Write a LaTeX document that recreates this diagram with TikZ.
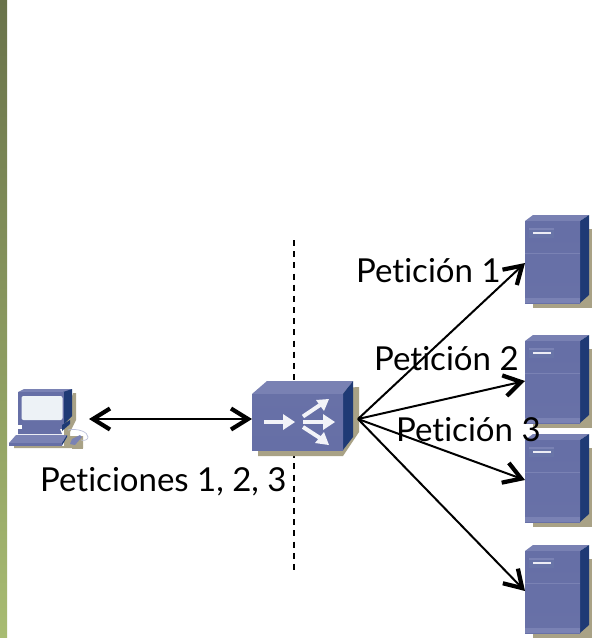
\documentclass[tikz,border=0pt]{standalone}
\usepackage{fontspec}
\setmainfont[Ligatures=NoCommon]{Lato}
\usetikzlibrary{arrows.meta}
\definecolor{stripT}{HTML}{69724A}
\definecolor{stripB}{HTML}{A8BC72}
\definecolor{face}{HTML}{666FA6}
\definecolor{faceL}{HTML}{7A82B4}
\definecolor{topf}{HTML}{7981B3}
\definecolor{side}{HTML}{1F3A75}
\definecolor{shad}{HTML}{A9A286}
\definecolor{scr}{HTML}{EDF2F6}
\tikzset{
  devnode/.style={inner sep=0pt,outer sep=0pt,minimum width=#1,minimum height=8pt},
  link/.style={line width=2pt,black},
  barbtip/.tip={Straight Barb[length=17pt,width=21pt,line width=4.2pt]},
  tiplink/.style={link,-barbtip},
  bothlink/.style={link,barbtip-barbtip},
  lbl/.style={anchor=base west,inner sep=0pt,font=\fontsize{33}{33}\selectfont,text=black},
}
\newcommand{\serverart}[2]{% left x, top y
  \begin{scope}[shift={(#1,#2)}]
    \fill[shad] (8,14) -- (67,14) -- (67,93) -- (8,93) -- cycle;
    \fill[topf] (0,6) -- (8,0) -- (64,0) -- (55,6) -- cycle;
    \fill[side] (55,6) -- (64,0) -- (64,80) -- (55,88) -- cycle;
    \shade[top color=face,bottom color=face!90!faceL] (0,6) rectangle (55,88);
    \fill[faceL] (0,83) rectangle (55,88);
    \draw[faceL,line width=.8pt] (0,38.5) -- (55,38.5);
    \fill[faceL!80!side] (4,13) rectangle (29,23);
    \fill[faceL] (4,13) rectangle (29,15);
    \fill[white!85!faceL] (8,17) rectangle (26,19);
  \end{scope}}
\begin{document}
\begin{tikzpicture}[x=1pt,y=-1pt]
\useasboundingbox (0,0) rectangle (592,638);
\fill[white] (0,0) rectangle (592,638);
\shade[top color=stripT,bottom color=stripB] (0,0) rectangle (7,638);
% dashed separator
\coordinate (dashtop) at (294,240);
\coordinate (dashbot) at (294,570);
\draw[black,line width=1.5pt,dash pattern=on 6pt off 5.17pt] (dashtop) -- (dashbot);
% computer
\fill[shad] (73,393) -- (76,393) -- (76,420) -- (70,432) -- (70,436) -- (83,436) -- (83,448) -- (14,448) -- (14,446) -- (64,446) -- (64,425) -- cycle;
\fill[faceL] (18,392) -- (24,389) -- (72,389) -- (64,393) -- (18,393) -- cycle;
\fill[side] (63,392) -- (72,389) -- (72,416) -- (63,425) -- cycle;
\fill[face] (18,392) rectangle (64,425);
\fill[scr,rounded corners=2pt] (21.5,396) rectangle (62.5,420) ;
\fill[face] (22,425) rectangle (62,429);
\fill[side] (62,425) -- (70,420) -- (70,424) -- (62,431) -- cycle;
\fill[face] (18,429) -- (60,429) -- (62,434) -- (18,434) -- cycle;
\fill[faceL] (16,435) -- (67,435) -- (62,443) -- (9,443) -- cycle;
\fill[face] (9,443) rectangle (62,445.5);
\fill[side] (62,443) -- (67,435) -- (67,437) -- (62,445.5) -- cycle;
\draw[faceL!50!white,line width=.7pt] (68,430) .. controls (78,428) and (88,432) .. (88,437) .. controls (88,440) and (84,441) .. (81,440);
\fill[shad] (72,441) rectangle (83,449);
\fill[faceL] (72,439) -- (80,435) -- (82,437) -- (75,445) -- (70,444) -- cycle;
% switch
\fill[shad] (258,393) -- (359,387) -- (359,432) -- (343,456) -- (258,456) -- cycle;
\fill[topf] (252,394) -- (267,381) -- (353,381) -- (343,394) -- cycle;
\fill[side] (343,394) -- (353,381) -- (353,437) -- (343,450) -- cycle;
\shade[top color=face!90!faceL,bottom color=face] (252,394) rectangle (343,450);
\begin{scope}[white!90!faceL,line cap=butt]
  \draw[line width=4pt] (264,422) -- (285,422);
  \fill (283,414) -- (295,422) -- (283,430) -- cycle;
  \draw[line width=4pt] (303,416.5) -- (320,405);
  \fill (316,400) -- (329,399) -- (324,411) -- cycle;
  \draw[line width=4pt] (303,422) -- (325,422);
  \fill (323,414) -- (335,422) -- (323,430) -- cycle;
  \draw[line width=4pt] (303,427) -- (320,438);
  \fill (324,432) -- (329,445) -- (315,443) -- cycle;
\end{scope}
% servers
\serverart{525}{215}
\serverart{525}{335}
\serverart{525}{434}
\serverart{525}{545}
% logical nodes
\node[devnode=74pt] (pc) at (52,419) {};
\node[devnode=106pt] (sw) at (305,419) {};
\node[devnode=55pt] (s1) at (552.5,263) {};
\node[devnode=55pt] (s2) at (552.5,381) {};
\node[devnode=55pt] (s3) at (552.5,480) {};
\node[devnode=55pt] (s4) at (552.5,591) {};
% links
\draw[bothlink] (pc.east) -- (sw.west);
\draw[tiplink] (sw.east) -- (s1.west);
\draw[tiplink] (sw.east) -- (s2.west);
\draw[tiplink] (sw.east) -- (s3.west);
\draw[tiplink] (sw.east) -- (s4.west);
% labels
\node[lbl] (l1) at (356,282) {Petición 1};
\node[lbl] (l2) at (374,370) {Petición 2};
\node[lbl] (l3) at (396,441) {Petición 3};
\node[lbl] (l0) at (40,491) {Peticiones 1, 2, 3};
\end{tikzpicture}
\end{document}
